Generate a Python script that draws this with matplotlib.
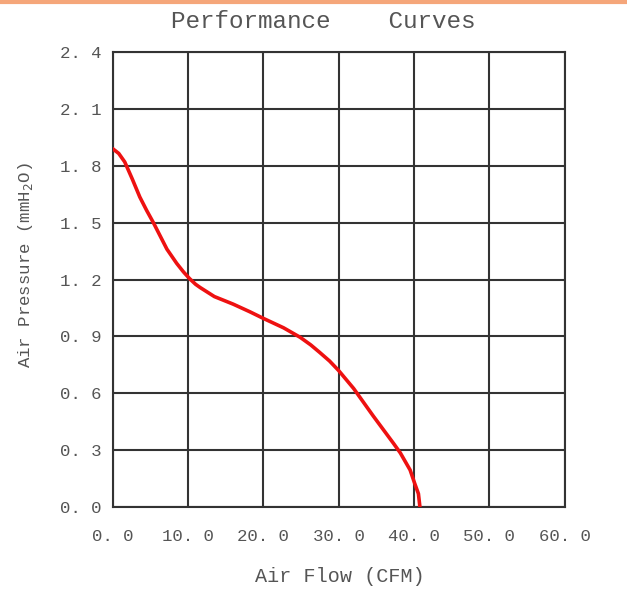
import numpy as np
import matplotlib.pyplot as plt
from matplotlib.lines import Line2D

# values
air_flow = [0.0, 0.8, 1.6, 2.6, 3.6, 4.5, 5.4, 6.3, 7.2, 8.5, 9.4, 10.2, 11.0, 11.6, 13.5,
            16.0, 18.2, 20.0, 22.7, 24.9, 26.3, 27.5, 28.8, 30.0, 32.0, 34.6, 37.3,
            38.2, 39.5, 40.1, 40.6, 40.8]
air_pressure = [1.89, 1.865, 1.82, 1.73, 1.635, 1.565, 1.50, 1.43, 1.36, 1.285, 1.24, 1.205,
                1.175, 1.158, 1.11, 1.07, 1.03, 0.995, 0.945, 0.895, 0.855, 0.815, 0.77,
                0.72, 0.625, 0.48, 0.335, 0.285, 0.195, 0.125, 0.07, 0.0]

x_ticks = [0, 10, 20, 30, 40, 50, 60]
x_labels = ['0. 0', '10. 0', '20. 0', '30. 0', '40. 0', '50. 0', '60. 0']
y_ticks = [0.0, 0.3, 0.6, 0.9, 1.2, 1.5, 1.8, 2.1, 2.4]
y_labels = ['0. 0', '0. 3', '0. 6', '0. 9', '1. 2', '1. 5', '1. 8', '2. 1', '2. 4']

plt.rcParams['font.family'] = ['Liberation Mono', 'DejaVu Sans Mono']
grid_col = '#333333'
text_col = '#555555'

W, H = 627, 591
fig = plt.figure(figsize=(W / 100, H / 100), dpi=100)
ax = fig.add_axes([112.7 / W, 1 - 507 / H, 451.8 / W, 455 / H])

ax.plot(air_flow, air_pressure, color='#ee1111', linewidth=2.6,
        solid_capstyle='round', solid_joinstyle='round', zorder=3)

ax.set_xlim(0, 60)
ax.set_ylim(0, 2.4)
ax.set_xticks(x_ticks)
ax.set_xticklabels(x_labels)
ax.set_yticks(y_ticks)
ax.set_yticklabels(y_labels)
ax.tick_params(length=0, labelsize=12.5, labelcolor=text_col)
ax.tick_params(axis='x', pad=16)
ax.tick_params(axis='y', pad=8)
ax.grid(True, color=grid_col, linewidth=1.5)
for s in ax.spines.values():
    s.set_color(grid_col)
    s.set_linewidth(1.5)

fig.text(340 / W, 1 - 576 / H, 'Air Flow (CFM)', fontsize=14.5, color=text_col,
         ha='center', va='center')
fig.text(26 / W, 1 - 265 / H, 'Air Pressure (mmH$_2$O)', fontsize=12.5, color=text_col,
         ha='center', va='center', rotation=90)
fig.text(323 / W, 1 - 21 / H, 'Performance    Curves', fontsize=17.5, color=text_col,
         ha='center', va='center')

# orange strip across the top
fig.add_artist(Line2D([0, 1], [1 - 1.5 / H, 1 - 1.5 / H], transform=fig.transFigure,
                      color='#f5a67a', linewidth=3))

fig.savefig('out.png', dpi=100)
